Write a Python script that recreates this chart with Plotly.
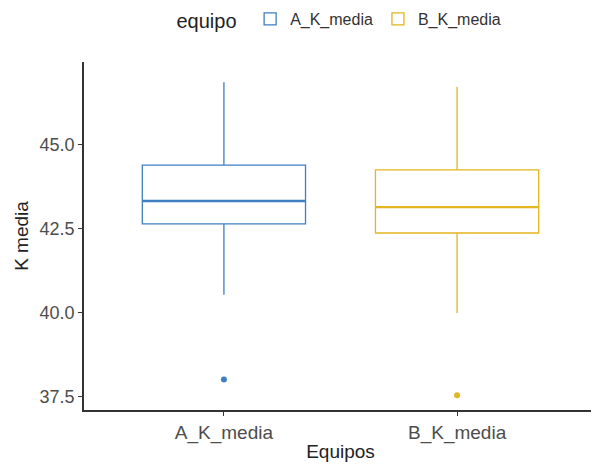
import plotly.graph_objects as go

categories = ["A_K_media", "B_K_media"]
q1 = [42.65, 42.38]
median = [43.33, 43.15]
q3 = [44.40, 44.26]
lower = [40.54, 40.00]
upper = [46.87, 46.73]
outliers = [[38.02], [37.55]]
colors = ["#3F7FC1", "#E3B51E"]
tick_vals = [37.5, 40.0, 42.5, 45.0]
box_width = 0.7

W, H = 591, 459  # page body has an 8px margin

fig = go.Figure()
for i, c in enumerate(categories):
    fig.add_trace(go.Box(
        x=[c], q1=[q1[i]], median=[median[i]], q3=[q3[i]],
        lowerfence=[lower[i]], upperfence=[upper[i]],
        name=c, legendgroup=c,
        line=dict(color=colors[i], width=1.3),
        fillcolor="rgba(255,255,255,0)",
        width=box_width, boxpoints=False, whiskerwidth=0,
    ))
    fig.add_trace(go.Scatter(
        x=[c] * len(outliers[i]), y=outliers[i], mode="markers",
        marker=dict(color=colors[i], size=6), showlegend=False,
        legendgroup=c, hoverinfo="y",
    ))
    fig.add_shape(type="line", xref="x", yref="y",
                  x0=i - box_width / 2, x1=i + box_width / 2,
                  y0=median[i], y1=median[i],
                  line=dict(color=colors[i], width=2.4))

fig.update_layout(
    width=W, height=H,
    margin=dict(l=76, r=2, t=54, b=57),
    plot_bgcolor="white", paper_bgcolor="white",
    font=dict(family="Liberation Sans, Arial, sans-serif", color="#333333"),
    legend=dict(orientation="h", x=0.5, xanchor="center",
                yref="container", y=1 - 12 / H, yanchor="middle",
                title=dict(text="equipo ", font=dict(size=20, color="#222222")),
                font=dict(size=16, color="#333333"),
                itemwidth=30, tracegroupgap=0),
    xaxis=dict(
        title=dict(text="Equipos", font=dict(size=19, color="#222222"), standoff=2),
        categoryorder="array", categoryarray=categories,
        range=[-0.6, 1.6], automargin=False,
        showline=True, linecolor="#333333", linewidth=1.5,
        ticks="outside", ticklen=4, tickcolor="#333333",
        tickfont=dict(size=19, color="#4D4D4D"),
        showgrid=False, zeroline=False,
    ),
    yaxis=dict(
        title=dict(text="K media", font=dict(size=19, color="#222222"), standoff=6),
        range=[37.11, 47.47], automargin=False,
        tickvals=tick_vals, tickformat=".1f",
        showline=True, linecolor="#333333", linewidth=1.5,
        ticks="outside", ticklen=4, tickcolor="#333333",
        tickfont=dict(size=18, color="#4D4D4D"),
        showgrid=False, zeroline=False,
    ),
)

fig.write_html("out.html")
